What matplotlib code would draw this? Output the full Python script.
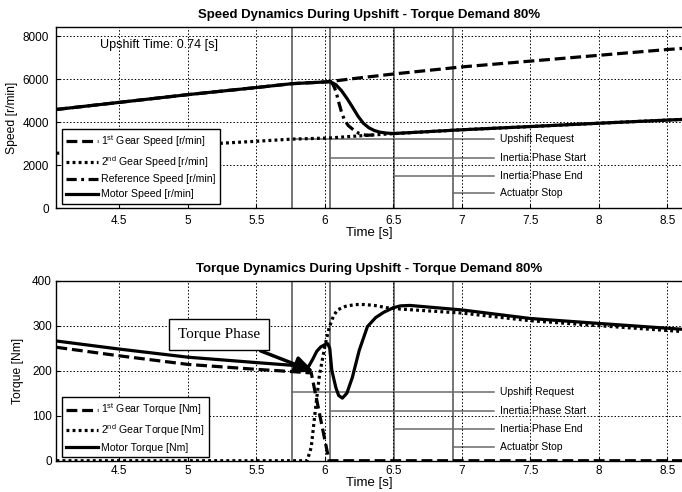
import matplotlib
matplotlib.use("Agg")
import matplotlib.pyplot as plt

plt.rcParams['font.family'] = ['Liberation Sans', 'DejaVu Sans']
plt.rcParams['mathtext.default'] = 'regular'

# ---- event markers (shared by both panels) ----
event_times = [5.761, 6.036, 6.503, 6.934]
event_labels = ["Upshift Request", "Inertia Phase Start", "Inertia Phase End", "Actuator Stop"]
speed_label_y = [3209, 2353, 1516, 698]
torque_label_y = [153, 111, 70, 31]

# ---- speed panel data ----
t_gear = [4.04, 4.5, 5.0, 5.5, 5.76, 6.0, 6.04, 6.2, 6.5, 7.0, 7.5, 8.0, 8.5, 8.61]
gear1_speed = [4600, 4930, 5290, 5620, 5800, 5880, 5900, 6030, 6250, 6580, 6850, 7120, 7390, 7440]
gear2_speed = [2560, 2740, 2940, 3120, 3220, 3265, 3275, 3350, 3475, 3655, 3805, 3960, 4105, 4135]

t_motor = [4.04, 4.5, 5.0, 5.5, 5.76, 6.0, 6.04, 6.08, 6.12, 6.16, 6.2, 6.24, 6.28,
           6.32, 6.36, 6.4, 6.45, 6.5, 7.0, 7.5, 8.0, 8.5, 8.61]
motor_speed = [4600, 4930, 5290, 5620, 5800, 5880, 5890, 5750, 5480, 5120, 4720, 4300, 3960,
               3750, 3620, 3545, 3500, 3480, 3655, 3805, 3960, 4105, 4135]

t_ref = [6.04, 6.06, 6.08, 6.1, 6.12, 6.14, 6.17, 6.21, 6.25, 6.3, 6.35]
ref_speed = [5890, 5750, 5450, 4950, 4500, 4150, 3850, 3640, 3480, 3400, 3410]

# ---- torque panel data ----
t_tq1 = [4.04, 4.5, 5.0, 5.5, 5.76, 5.9, 5.95, 6.0, 6.03, 6.1, 7.0, 8.0, 8.61]
gear1_torque = [252, 233, 214, 203, 198, 195, 120, 45, 0, 0, 0, 0, 0]

t_tq2 = [4.04, 5.0, 5.87, 5.9, 5.93, 5.96, 6.0, 6.03, 6.06, 6.09, 6.15, 6.22, 6.29,
         6.36, 6.45, 6.55, 7.0, 7.5, 8.0, 8.61]
gear2_torque = [0, 0, 0, 30, 113, 190, 255, 295, 320, 335, 343, 347, 347,
                345, 340, 337, 328, 311, 300, 287]

t_tqm = [4.04, 4.5, 5.0, 5.5, 5.76, 5.88, 5.91, 5.94, 5.97, 6.0, 6.02, 6.035, 6.05, 6.08,
         6.1, 6.127, 6.16, 6.2, 6.25, 6.31, 6.37, 6.43, 6.5, 6.55, 6.62, 7.0, 7.5, 8.0, 8.61]
motor_torque = [266, 248, 230, 218, 212, 209, 225, 243, 253, 258, 260, 250, 201, 162,
                145, 139, 150, 185, 245, 298, 318, 330, 340, 344, 345, 335, 316, 305, 292]

xticks = [4.5, 5, 5.5, 6, 6.5, 7, 7.5, 8, 8.5]
XLIM = (4.037, 8.606)

LW = 2.3
DASH = (0, (3.4, 1.5))
DOT = (0, (0.9, 1.0))
DASHDOT = (0, (3.2, 1.4, 0.9, 1.4))
EVCOL = '#6a6a6a'


def style_axes(ax, ylim, yticks, pad):
    ax.set_xlim(*XLIM)
    ax.set_ylim(*ylim)
    ax.set_xticks(xticks)
    ax.set_xticklabels([f"{v:g}" for v in xticks])
    ax.set_yticks(yticks)
    ax.grid(True, linestyle=(0, (1.5, 2.0)), color='black', lw=0.7, zorder=0)
    ax.tick_params(direction='in', length=3, labelsize=8.5, pad=pad)
    ax.spines['right'].set_visible(False)
    for s in ['left', 'top', 'bottom']:
        ax.spines[s].set_linewidth(1.0)


def draw_events(ax, label_y):
    for t in event_times:
        ax.axvline(t, color=EVCOL, lw=1.3, zorder=1.5)
    for t, y, lab in zip(event_times, label_y, event_labels):
        ax.plot([t, 7.236], [y, y], color=EVCOL, lw=1.1, zorder=1.5)
        ax.text(7.28, y, lab, fontsize=7.5, va='center', ha='left', zorder=3)


def add_legend(ax, anchor):
    leg = ax.legend(loc='lower left', bbox_to_anchor=anchor, borderaxespad=0, fontsize=7.6,
                    handlelength=3.0, handletextpad=0.3, labelspacing=0.45, borderpad=0.45,
                    fancybox=False, framealpha=1, edgecolor='black')
    leg.get_frame().set_linewidth(1.0)
    leg.set_zorder(10)
    return leg


fig = plt.figure(figsize=(6.82, 4.92), dpi=100)
ax1 = fig.add_axes([0.0821, 0.5766, 1.0 - 0.0821, 0.3691])
ax2 = fig.add_axes([0.0821, 0.0636, 1.0 - 0.0821, 0.3659])

# speed panel
style_axes(ax1, (0, 8450), [0, 2000, 4000, 6000, 8000], pad=5)
draw_events(ax1, speed_label_y)
ax1.plot(t_gear, gear1_speed, color='black', lw=LW, linestyle=DASH, label='1$^{st}$ Gear Speed [r/min]', zorder=4)
ax1.plot(t_gear, gear2_speed, color='black', lw=LW, linestyle=DOT, label='2$^{nd}$ Gear Speed [r/min]', zorder=4)
ax1.plot(t_ref, ref_speed, color='black', lw=LW, linestyle=DASHDOT, label='Reference Speed [r/min]', zorder=4)
ax1.plot(t_motor, motor_speed, color='black', lw=LW, linestyle='-', label='Motor Speed [r/min]', zorder=5)
ax1.set_title("Speed Dynamics During Upshift - Torque Demand 80%", fontsize=9.5, fontweight='bold', pad=6)
ax1.set_ylabel("Speed [r/min]", fontsize=8.7, labelpad=3)
ax1.set_xlabel("Time [s]", fontsize=9.5, labelpad=0)
ax1.text(4.36, 7595, "Upshift Time: 0.74 [s]", fontsize=9, va='center', ha='left')
add_legend(ax1, (0.009, 0.024))

# torque panel
style_axes(ax2, (0, 400), [0, 100, 200, 300, 400], pad=3)
draw_events(ax2, torque_label_y)
ax2.plot(t_tq1, gear1_torque, color='black', lw=LW, linestyle=DASH, label='1$^{st}$ Gear Torque [Nm]', zorder=4)
ax2.plot(t_tq2, gear2_torque, color='black', lw=LW, linestyle=DOT, label='2$^{nd}$ Gear Torque [Nm]', zorder=4)
ax2.plot(t_tqm, motor_torque, color='black', lw=LW, linestyle='-', label='Motor Torque [Nm]', zorder=5)
ax2.set_title("Torque Dynamics During Upshift - Torque Demand 80%", fontsize=9.5, fontweight='bold', pad=6)
ax2.set_ylabel("Torque [Nm]", fontsize=8.7, labelpad=6)
ax2.set_xlabel("Time [s]", fontsize=9.5, labelpad=0)
add_legend(ax2, (0.009, 0.019))

ax2.annotate("Torque Phase", xy=(5.919, 198), xytext=(5.227, 280),
             fontsize=11, family=['Liberation Serif', 'DejaVu Serif'], ha='center', va='center',
             bbox=dict(boxstyle='square,pad=0.6', fc='white', ec='black', lw=1.0),
             arrowprops=dict(arrowstyle='-|>,head_length=1.0,head_width=0.45', color='black',
                             lw=2.5, shrinkA=0, shrinkB=0),
             zorder=8)

fig.savefig("out.png", dpi=100)
